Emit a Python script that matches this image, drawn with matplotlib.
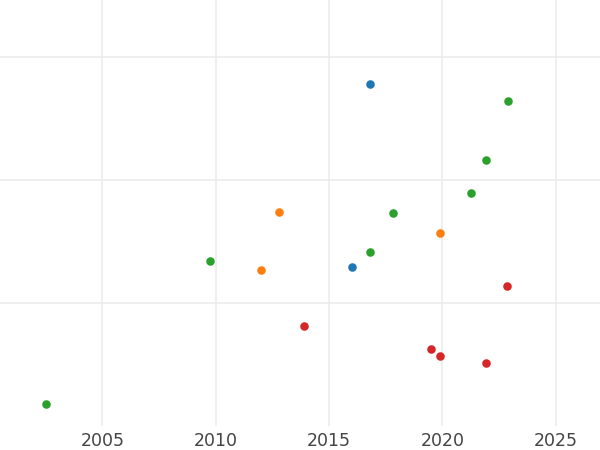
import numpy as np
import matplotlib
matplotlib.use('Agg')
import matplotlib.pyplot as plt

# Points per group (year, value)
blue_x = [2016.8, 2016.0]
blue_y = [2.78, 1.29]

orange_x = [2012.8, 2019.9, 2012.0]
orange_y = [1.74, 1.57, 1.27]

green_x = [2022.9, 2021.9, 2021.25, 2017.8, 2009.75, 2016.8, 2002.5]
green_y = [2.64, 2.16, 1.89, 1.73, 1.34, 1.41, 0.18]

red_x = [2022.85, 2013.9, 2019.5, 2019.9, 2021.9]
red_y = [1.14, 0.81, 0.63, 0.57, 0.51]

groups = [
    (blue_x, blue_y, '#1f77b4'),
    (orange_x, orange_y, '#ff7f0e'),
    (green_x, green_y, '#2ca02c'),
    (red_x, red_y, '#d62728'),
]

fig = plt.figure(figsize=(6, 4.5), dpi=100)
ax = fig.add_axes([0, 0.053, 1, 0.947])

for xs, ys, c in groups:
    ax.scatter(xs, ys, s=38, color=c, linewidths=0, zorder=3)

ax.set_xlim(2000.48, 2026.95)
ax.set_ylim(0, 3.46)
ax.set_xticks([2005, 2010, 2015, 2020, 2025])
ax.set_yticks([1, 2, 3])
ax.set_yticklabels([])
ax.grid(True, color='#ebebeb', linewidth=1.1)
ax.tick_params(axis='both', length=0, labelsize=12.5, labelcolor='#444444', pad=4)
for s in ax.spines.values():
    s.set_visible(False)

fig.savefig('out.png', dpi=100)
